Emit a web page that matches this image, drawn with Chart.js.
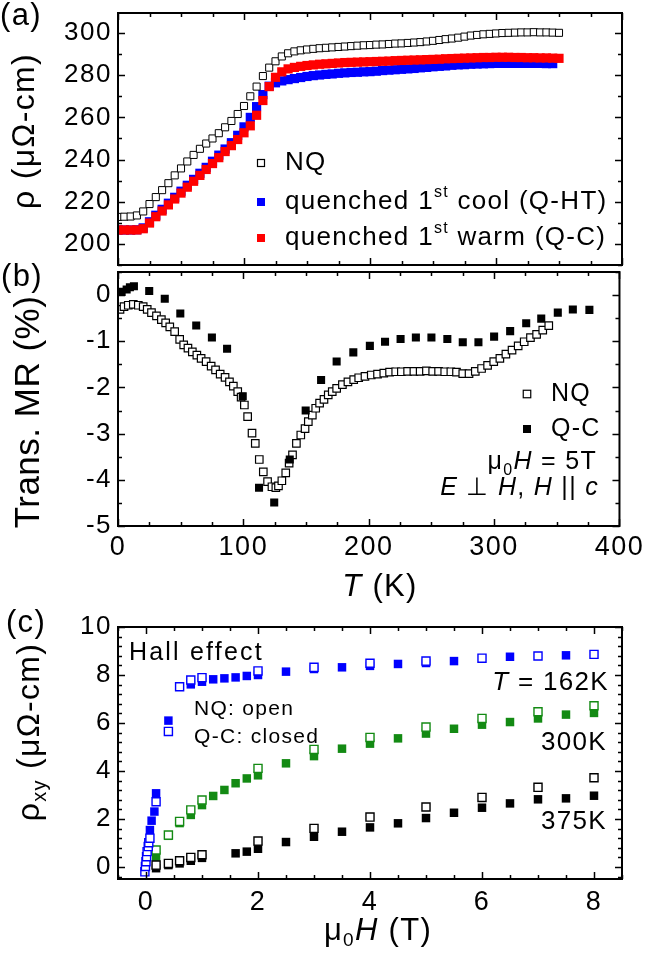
<!DOCTYPE html>
<html>
<head>
<meta charset="utf-8">
<title>Resistivity, MR and Hall effect</title>
<script src="https://cdn.jsdelivr.net/npm/chart.js@4.4.1/dist/chart.umd.min.js"></script>
<style>
  html, body { margin: 0; padding: 0; background: #fff; overflow: hidden; }
  #wrap { position: relative; width: 647px; height: 956px; overflow: hidden; }
  #wrap canvas { position: absolute; left: 0; top: 0; }
  #wrap #panelA { top: -60px; }
</style>
</head>
<body>
<div id="wrap">
  <canvas id="panelA" width="647" height="956"></canvas>
  <canvas id="panelB" width="647" height="956"></canvas>
  <canvas id="panelC" width="647" height="956"></canvas>
</div>
<script>
// ===== (a) resistivity vs temperature =====
const tempA = [0, 5, 10, 15, 20, 25, 30, 35, 40, 45, 50, 55, 60, 65, 70, 75, 80, 85, 90, 95,
  100, 105, 110, 115, 120, 125, 130, 135, 140, 145, 150, 155, 160, 165, 170, 175, 180, 185, 190, 195,
  200, 205, 210, 215, 220, 225, 230, 235, 240, 245, 250, 255, 260, 265, 270, 275, 280, 285, 290, 295,
  300, 305, 310, 315, 320, 325, 330, 335, 340, 345, 350];
const rhoNQ = [212.8, 212.9, 213.0, 213.5, 215.4, 218.9, 222.2, 225.5, 228.8, 232.5, 235.8, 239.1, 242.2, 245.1, 247.6, 250.0, 252.5, 255.3, 258.3, 261.6,
  265.4, 270.0, 274.6, 279.6, 283.6, 286.6, 288.9, 290.4, 291.3, 291.8, 292.2, 292.5, 292.8, 293.0, 293.2, 293.4, 293.6, 293.8, 294.0, 294.2,
  294.3, 294.5, 294.6, 294.8, 295.0, 295.1, 295.3, 295.5, 295.7, 296.0, 296.3, 296.7, 297.1, 297.4, 297.8, 298.3, 298.8, 299.1, 299.4, 299.6,
  299.8, 300.0, 300.1, 300.2, 300.3, 300.3, 300.4, 300.3, 300.3, 300.2, 300.1];
const rhoQC = [206.6, 206.6, 206.6, 206.6, 207.2, 209.9, 212.9, 215.6, 218.5, 221.3, 224.1, 226.9, 229.7, 232.5, 235.3, 238.1, 240.9, 243.8, 246.6, 249.5,
  252.7, 256.0, 261.0, 268.0, 274.6, 279.0, 281.6, 283.0, 283.7, 284.2, 284.6, 284.9, 285.2, 285.4, 285.6, 285.8, 286.0, 286.1, 286.2, 286.3,
  286.4, 286.5, 286.6, 286.7, 286.9, 287.0, 287.1, 287.2, 287.3, 287.4, 287.5, 287.6, 287.8, 287.9, 288.0, 288.1, 288.2, 288.3, 288.4, 288.4,
  288.5, 288.5, 288.5, 288.4, 288.4, 288.3, 288.3, 288.2, 288.2, 288.1, 288.0];
const tempQHT = [0, 5, 10, 15, 20, 25, 30, 35, 40, 45, 50, 55, 60, 65, 70, 75, 80, 85, 90, 95,
  100, 105, 110, 115, 120, 125, 130, 135, 140, 145, 150, 155, 160, 165, 170, 175, 180, 185, 190, 195,
  200, 205, 210, 215, 220, 225, 230, 235, 240, 245, 250, 255, 260, 265, 270, 275, 280, 285, 290, 295,
  300, 305, 310, 315, 320, 325, 330, 335, 340, 345];
const rhoQHT = [206.6, 206.6, 206.6, 206.7, 207.6, 210.5, 213.6, 216.4, 219.3, 222.1, 225.0, 227.8, 230.6, 233.5, 236.3, 239.2, 242.1, 245.0, 248.0, 251.5,
  255.5, 260.0, 265.1, 270.8, 274.8, 276.4, 277.3, 277.9, 278.4, 278.9, 279.4, 279.8, 280.1, 280.4, 280.6, 280.9, 281.1, 281.3, 281.4, 281.6,
  281.7, 281.9, 282.2, 282.4, 282.6, 282.8, 283.0, 283.2, 283.5, 283.7, 284.0, 284.2, 284.4, 284.7, 284.9, 285.0, 285.2, 285.3, 285.4, 285.5,
  285.6, 285.6, 285.6, 285.6, 285.6, 285.6, 285.6, 285.6, 285.5, 285.5];

// ===== (b) transverse MR vs temperature =====
const tempMrNQ = [1.6, 4.8, 8.2, 12.2, 16.2, 20.1, 23.3, 26.7, 30.7, 34.6, 38, 41.3, 45.2, 49.2, 52.4,
  55.8, 59.3, 62.9, 66.3, 70.3, 74.3, 77.8, 81.5, 85.4, 88.9, 92, 95.5, 98.2, 100.8, 103.4,
  106.9, 109.5, 112.7, 115.9, 119.3, 122.8, 125.9, 128, 130.7, 133.8, 136.5, 139.2, 142.3, 145.8, 149.2,
  151.8, 155, 157.7, 160.8, 164.3, 167.7, 170.9, 174.4, 179, 183.4, 188, 192, 197, 202, 207,
  212, 216.6, 221.5, 226, 231, 236, 241, 246, 251, 255.7, 260.6, 265.5, 270, 275, 280,
  285, 290, 294.8, 299.7, 304.6, 309.4, 314.3, 319.2, 324, 329, 333.9, 338.8, 343.6];
const mrNQ = [-0.31, -0.25, -0.22, -0.20, -0.22, -0.25, -0.31, -0.38, -0.45, -0.53, -0.60, -0.69, -0.79, -0.96, -1.08,
  -1.15, -1.23, -1.30, -1.37, -1.44, -1.54, -1.62, -1.71, -1.78, -1.88, -1.97, -2.09, -2.21, -2.38, -2.63,
  -2.99, -3.21, -3.56, -3.83, -4.04, -4.15, -4.17, -4.13, -4.02, -3.85, -3.64, -3.46, -3.21, -3.03, -2.89,
  -2.74, -2.60, -2.45, -2.34, -2.26, -2.16, -2.09, -2.02, -1.94, -1.88, -1.83, -1.79, -1.76, -1.73, -1.71,
  -1.69, -1.67, -1.66, -1.66, -1.65, -1.65, -1.65, -1.64, -1.65, -1.65, -1.66, -1.66, -1.67, -1.70, -1.70,
  -1.65, -1.59, -1.52, -1.44, -1.37, -1.28, -1.19, -1.10, -1.01, -0.92, -0.85, -0.76, -0.66];
const tempMrQC = [2.9, 6.9, 9.5, 12.7, 24.9, 37.3, 49.7, 62.4, 74.9, 87, 99.5, 112.5, 124.6, 137, 149.7, 162, 174.4,
  187.7, 200.9, 213, 225.4, 237.6, 250, 262.7, 275, 287.5, 300, 312.8, 325.6, 337.6, 350.8, 362.8, 376];
const mrQC = [0.07, 0.12, 0.17, 0.19, 0.09, -0.08, -0.40, -0.66, -0.92, -1.16, -2.19, -4.17, -4.49, -3.56, -2.50, -1.84, -1.44,
  -1.24, -1.10, -1.01, -0.95, -0.92, -0.92, -0.95, -1.02, -1.02, -0.90, -0.78, -0.61, -0.51, -0.38, -0.31, -0.32];

// ===== (c) Hall effect =====
const field162QC = [0.07, 0.10, 0.15, 0.18, 0.4, 0.8, 1.0, 1.2, 1.4, 1.6, 1.8, 2.0, 2.5, 3.0, 3.5, 4.0, 4.5, 5.0, 5.5, 6.5, 7.5];
const hall162QC = [1.54, 1.93, 2.31, 3.07, 6.1, 7.61, 7.72, 7.82, 7.86, 7.9, 7.96, 8.0, 8.14, 8.25, 8.32, 8.38, 8.46, 8.5, 8.58, 8.76, 8.82];
const field162NQ = [-0.02, -0.01, 0.0, 0.01, 0.02, 0.04, 0.05, 0.07, 0.18, 0.4, 0.6, 0.8, 1.0, 2.0, 3.0, 4.0, 5.0, 6.0, 7.0, 8.0];
const hall162NQ = [-0.2, 0.02, 0.22, 0.43, 0.64, 0.85, 1.01, 1.2, 2.72, 5.65, 7.51, 7.79, 7.89, 8.17, 8.32, 8.49, 8.58, 8.7, 8.79, 8.86];
const field300QC = [0.18, 0.4, 0.6, 0.8, 1.0, 1.2, 1.4, 1.6, 1.8, 2.0, 2.5, 3.0, 3.5, 4.0, 4.5, 5.0, 5.5, 6.0, 6.5, 7.0, 7.5, 8.0];
const hall300QC = [0.43, 1.3, 1.83, 2.17, 2.58, 2.96, 3.21, 3.49, 3.69, 3.82, 4.32, 4.62, 4.93, 5.14, 5.36, 5.56, 5.76, 5.93, 6.04, 6.19, 6.35, 6.42];
const field300NQ = [0.18, 0.4, 0.6, 0.8, 1.0, 2.0, 3.0, 4.0, 5.0, 6.0, 7.0, 8.0];
const hall300NQ = [0.71, 1.33, 1.90, 2.38, 2.79, 4.11, 4.9, 5.4, 5.83, 6.19, 6.47, 6.72];
const field375QC = [0.18, 0.4, 0.6, 0.8, 1.0, 1.6, 1.8, 2.0, 2.5, 3.0, 3.5, 4.0, 4.5, 5.0, 5.5, 6.0, 6.5, 7.0, 7.5, 8.0];
const hall375QC = [-0.05, 0.08, 0.15, 0.26, 0.38, 0.57, 0.64, 0.76, 1.04, 1.26, 1.47, 1.65, 1.82, 2.04, 2.26, 2.47, 2.65, 2.82, 2.86, 2.97];
const field375NQ = [0.18, 0.4, 0.6, 0.8, 1.0, 2.0, 3.0, 4.0, 5.0, 6.0, 7.0, 8.0];
const hall375NQ = [0.08, 0.15, 0.26, 0.40, 0.51, 1.08, 1.61, 2.08, 2.5, 2.90, 3.32, 3.72];

const FONT = '"Liberation Sans", Arial, Helvetica, sans-serif';
const BLUE = '#0000ff';
const RED = '#ff0000';
const GREEN = '#138a13';
const SHIFT_A = 60;   // panel (a) canvas is moved up this much (see CSS)

function pts(xs, ys) {
    return xs.map((x, i) => ({ x: x, y: ys[i] }));
}

// text with sub/superscripts and italics, drawn straight on the canvas
function richText(ctx, parts, x, y, size, align, angle, spacing) {
    ctx.save();
    ctx.translate(x, y);
    if (angle) ctx.rotate(angle);
    ctx.textBaseline = 'middle';
    ctx.textAlign = 'left';
    ctx.fillStyle = '#000';
    ctx.letterSpacing = (spacing === undefined ? 1.3 : spacing) + 'px';
    const fontOf = p => (p.it ? 'italic ' : '') + Math.round((p.sub || p.sup) ? size * 0.62 : size) + 'px ' + FONT;
    let w = 0;
    parts.forEach(p => { ctx.font = fontOf(p); w += ctx.measureText(p.t).width; });
    let cx = align === 'center' ? -w / 2 : (align === 'right' ? -w : 0);
    parts.forEach(p => {
        ctx.font = fontOf(p);
        const dy = p.sub ? size * 0.33 : (p.sup ? -size * 0.36 : 0);
        ctx.fillText(p.t, cx, dy);
        cx += ctx.measureText(p.t).width;
    });
    ctx.restore();
}

function square(ctx, x, y, side, fill, stroke) {
    ctx.save();
    if (fill) { ctx.fillStyle = fill; ctx.fillRect(x - side / 2, y - side / 2, side, side); }
    if (stroke) { ctx.strokeStyle = stroke; ctx.lineWidth = 1.2; ctx.strokeRect(x - side / 2, y - side / 2, side, side); }
    ctx.restore();
}

// wider spacing for the library's tick labels
const tickSpacing = {
    id: 'tickSpacing',
    beforeDraw(chart) { chart.ctx.letterSpacing = '1.5px'; }
};

// box round the plot with inward ticks on all four sides
function frameTicks(cfg) {
    return {
        id: 'frameTicks',
        afterDraw(chart) {
            const { ctx, chartArea: a } = chart;
            const xs = chart.scales.x, ys = chart.scales.y;
            const marks = (scale, minor, major, cb) => {
                const n0 = Math.ceil(scale.min / minor - 1e-6);
                const n1 = Math.floor(scale.max / minor + 1e-6);
                for (let k = n0; k <= n1; k++) {
                    const v = k * minor;
                    const isMajor = Math.abs(v / major - Math.round(v / major)) < 1e-6;
                    cb(Math.round(scale.getPixelForValue(v)) + 0.5, isMajor ? 7 : 4);
                }
            };
            ctx.save();
            ctx.strokeStyle = '#000';
            ctx.lineWidth = 1.5;
            ctx.beginPath();
            marks(xs, cfg.xMinor, cfg.xMajor, (px, len) => {
                ctx.moveTo(px, a.bottom); ctx.lineTo(px, a.bottom - len);
                ctx.moveTo(px, a.top); ctx.lineTo(px, a.top + len);
            });
            marks(ys, cfg.yMinor, cfg.yMajor, (py, len) => {
                ctx.moveTo(a.left, py); ctx.lineTo(a.left + len, py);
                ctx.moveTo(a.right, py); ctx.lineTo(a.right - len, py);
            });
            ctx.stroke();
            ctx.lineWidth = 2;
            ctx.strokeRect(a.left, a.top, a.right - a.left, a.bottom - a.top);
            ctx.restore();
        }
    };
}

function notes(drawFn) {
    return { id: 'notes', afterDraw(chart) { drawFn(chart.ctx); } };
}

function yAxis(min, max, step) {
    return {
        type: 'linear', min: min, max: max,
        afterFit: s => { s.width = 118; },
        grid: { display: false, drawTicks: false },
        border: { display: false },
        ticks: { stepSize: step, includeBounds: false, padding: 6, color: '#000', font: { family: FONT, size: 26 } }
    };
}

function xAxis(min, max, step, pad, shown) {
    const h = shown ? 40 : 0;
    return {
        type: 'linear', min: min, max: max, display: shown,
        afterFit: s => { s.height = h; },
        grid: { display: false, drawTicks: false },
        border: { display: false },
        ticks: { stepSize: step, includeBounds: false, autoSkip: false, maxRotation: 0, padding: pad, color: '#000', font: { family: FONT, size: 27 } }
    };
}

function baseOptions(padding, scales) {
    return {
        responsive: false,
        animation: false,
        layout: { padding: padding },
        plugins: { legend: { display: false }, tooltip: { enabled: false } },
        scales: scales
    };
}

// ---------- panel (a) ----------
new Chart(document.getElementById('panelA'), {
    type: 'scatter',
    data: {
        datasets: [
            { label: 'NQ', data: pts(tempA, rhoNQ), pointStyle: 'rect', pointRadius: 5, backgroundColor: '#fff', borderColor: '#000', borderWidth: 1, order: 0 },
            { label: 'quenched 1st warm (Q-C)', data: pts(tempA, rhoQC), pointStyle: 'rect', pointRadius: 6.5, backgroundColor: RED, borderWidth: 0, order: 1 },
            { label: 'quenched 1st cool (Q-HT)', data: pts(tempQHT, rhoQHT), pointStyle: 'rect', pointRadius: 6.5, backgroundColor: BLUE, borderWidth: 0, order: 2 }
        ]
    },
    options: baseOptions({ top: 13 + SHIFT_A, left: 0, right: 25, bottom: 956 - 265 - SHIFT_A }, {
        x: xAxis(0, 400, 100, 5, false),
        y: yAxis(190, 309.5, 20)
    }),
    plugins: [tickSpacing, frameTicks({ xMinor: 25, xMajor: 100, yMinor: 10, yMajor: 20 }), notes(ctx => {
        ctx.save();
        ctx.translate(0, SHIFT_A);
        richText(ctx, [{ t: '(a)' }], 21, 16, 31, 'center');
        richText(ctx, [{ t: 'ρ (μΩ-cm)' }], 25, 131, 32, 'center', -Math.PI / 2);
        square(ctx, 261, 163, 7, '#fff', '#000');
        richText(ctx, [{ t: 'NQ' }], 285, 163, 26, 'left');
        square(ctx, 261, 202, 8, BLUE);
        richText(ctx, [{ t: 'quenched 1' }, { t: 'st', sup: true }, { t: ' cool (Q-HT)' }], 285, 202, 26, 'left');
        square(ctx, 261, 238, 8, RED);
        richText(ctx, [{ t: 'quenched 1' }, { t: 'st', sup: true }, { t: ' warm (Q-C)' }], 285, 238, 26, 'left');
        ctx.restore();
    })]
});

// ---------- panel (b) ----------
new Chart(document.getElementById('panelB'), {
    type: 'scatter',
    data: {
        datasets: [
            { label: 'NQ', data: pts(tempMrNQ, mrNQ), pointStyle: 'rect', pointRadius: 5.3, backgroundColor: '#fff', borderColor: '#000', borderWidth: 1.2, order: 1 },
            { label: 'Q-C', data: pts(tempMrQC, mrQC), pointStyle: 'rect', pointRadius: 5.7, backgroundColor: '#000', borderWidth: 0, order: 0 }
        ]
    },
    options: baseOptions({ top: 272, left: 0, right: 25, bottom: 956 - 526 - 40 }, {
        x: xAxis(0, 400, 100, 5, true),
        y: yAxis(-5, 0.5, 1)
    }),
    plugins: [tickSpacing, frameTicks({ xMinor: 25, xMajor: 100, yMinor: 0.5, yMajor: 1 }), notes(ctx => {
        richText(ctx, [{ t: '(b)' }], 22, 277, 31, 'center');
        richText(ctx, [{ t: 'Trans. MR (%)' }], 29, 412, 35, 'center', -Math.PI / 2, 0.5);
        richText(ctx, [{ t: 'T', it: true }, { t: ' (K)' }], 380, 587, 31, 'center');
        square(ctx, 527, 394, 7.5, '#fff', '#000');
        richText(ctx, [{ t: 'NQ' }], 551, 394, 25, 'left');
        square(ctx, 527, 429, 8, '#000');
        richText(ctx, [{ t: 'Q-C' }], 551, 429, 25, 'left');
        richText(ctx, [{ t: 'μ' }, { t: '0', sub: true }, { t: 'H', it: true }, { t: ' = 5T' }], 597, 462, 25, 'right');
        richText(ctx, [{ t: 'E', it: true }, { t: ' ⊥ ' }, { t: 'H', it: true }, { t: ', ' }, { t: 'H', it: true }, { t: ' || ' }, { t: 'c', it: true }], 599, 488, 25, 'right');
    })]
});

// ---------- panel (c) ----------
new Chart(document.getElementById('panelC'), {
    type: 'scatter',
    data: {
        datasets: [
            { label: '162K NQ', data: pts(field162NQ, hall162NQ), pointStyle: 'rect', pointRadius: 5.7, backgroundColor: '#fff', borderColor: BLUE, borderWidth: 1.4, order: 0 },
            { label: '300K NQ', data: pts(field300NQ, hall300NQ), pointStyle: 'rect', pointRadius: 5.7, backgroundColor: '#fff', borderColor: GREEN, borderWidth: 1.4, order: 0 },
            { label: '375K NQ', data: pts(field375NQ, hall375NQ), pointStyle: 'rect', pointRadius: 5.7, backgroundColor: '#fff', borderColor: '#000', borderWidth: 1.4, order: 0 },
            { label: '162K Q-C', data: pts(field162QC, hall162QC), pointStyle: 'rect', pointRadius: 6, backgroundColor: BLUE, borderWidth: 0, order: 1 },
            { label: '300K Q-C', data: pts(field300QC, hall300QC), pointStyle: 'rect', pointRadius: 6, backgroundColor: GREEN, borderWidth: 0, order: 1 },
            { label: '375K Q-C', data: pts(field375QC, hall375QC), pointStyle: 'rect', pointRadius: 6, backgroundColor: '#000', borderWidth: 0, order: 1 }
        ]
    },
    options: baseOptions({ top: 627, left: 0, right: 25, bottom: 956 - 879 - 40 }, {
        x: xAxis(-0.5, 8.5, 2, 7, true),
        y: yAxis(-0.5, 10, 2)
    }),
    plugins: [tickSpacing, frameTicks({ xMinor: 0.5, xMajor: 2, yMinor: 0.4, yMajor: 2 }), notes(ctx => {
        richText(ctx, [{ t: '(c)' }], 26, 623, 31, 'center');
        richText(ctx, [{ t: 'ρ' }, { t: 'xy', sub: true }, { t: ' (μΩ-cm)' }], 30, 732, 32, 'center', -Math.PI / 2);
        richText(ctx, [{ t: 'μ' }, { t: '0', sub: true }, { t: 'H', it: true }, { t: ' (T)' }], 378, 931, 31, 'center');
        richText(ctx, [{ t: 'Hall effect' }], 129, 653, 25, 'left', 0, 2.2);
        richText(ctx, [{ t: 'NQ: open' }], 194, 709, 21, 'left');
        richText(ctx, [{ t: 'Q-C: closed' }], 194, 737, 21, 'left');
        richText(ctx, [{ t: 'T', it: true }, { t: ' = 162K' }], 609, 683, 26, 'right');
        richText(ctx, [{ t: '300K' }], 607, 743, 26, 'right');
        richText(ctx, [{ t: '375K' }], 607, 822, 26, 'right');
    })]
});
</script>
</body>
</html>
